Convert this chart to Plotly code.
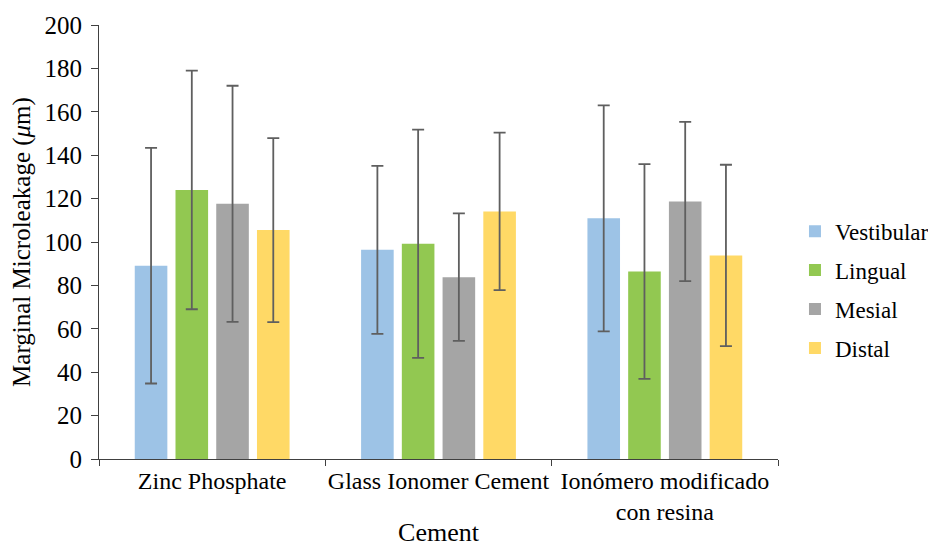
import plotly.graph_objects as go

categories = ["Zinc Phosphate", "Glass Ionomer Cement", "Ionómero modificado<br>con resina"]
series_names = ["Vestibular", "Lingual", "Mesial", "Distal"]
vestibular = [89.1, 96.4, 110.9]
lingual = [124.0, 99.2, 86.4]
mesial = [117.6, 83.8, 118.7]
distal = [105.5, 114.1, 93.8]
vestibular_sd = [54.3, 38.7, 52.1]
lingual_sd = [55.0, 52.6, 49.5]
mesial_sd = [54.4, 29.4, 36.7]
distal_sd = [42.4, 36.3, 41.8]
colors = ["#9DC3E6", "#92C851", "#A5A5A5", "#FFD966"]
y_ticks = [0, 20, 40, 60, 80, 100, 120, 140, 160, 180, 200]

values = [vestibular, lingual, mesial, distal]
sds = [vestibular_sd, lingual_sd, mesial_sd, distal_sd]

FONT = "Liberation Serif"

fig = go.Figure()
for i, (name, vals, sd, col) in enumerate(zip(series_names, values, sds, colors)):
    fig.add_trace(go.Bar(
        name=name, x=categories, y=vals,
        marker=dict(color=col, line=dict(width=0)),
        error_y=dict(type="data", array=sd, visible=True,
                     color="#5f5f5f", thickness=1.8, width=6),
        legendgroup=name,
    ))

fig.update_layout(
    barmode="group",
    bargap=0.28,
    bargroupgap=0.2,
    width=944, height=539,
    margin=dict(l=91, r=174, t=17, b=88),
    paper_bgcolor="white",
    plot_bgcolor="white",
    font=dict(family=FONT, size=23, color="black"),
    legend=dict(
        x=1.025, xanchor="left", y=0.39, yanchor="middle",
        font=dict(family=FONT, size=23, color="black"),
        tracegroupgap=6, itemwidth=30,
        bgcolor="rgba(0,0,0,0)",
    ),
    showlegend=True,
)
fig.update_xaxes(
    automargin=False, tickangle=0,
    showline=True, linecolor="#404040", linewidth=1.2,
    ticks="outside", tickson="boundaries", ticklen=6, tickcolor="#404040",
    tickfont=dict(family=FONT, size=24, color="black"),
    title=dict(text="Cement", font=dict(family=FONT, size=26, color="black"), standoff=9),
    showgrid=False,
)
fig.update_yaxes(
    automargin=False,
    range=[0, 200], tickvals=y_ticks,
    showline=True, linecolor="#404040", linewidth=1.2,
    ticks="outside", ticklen=7, tickcolor="#404040", ticklabelstandoff=4,
    tickfont=dict(family=FONT, size=25, color="black"),
    title=dict(text="Marginal Microleakage (<i>μ</i>m)", font=dict(family=FONT, size=25, color="black"), standoff=12),
    showgrid=False, zeroline=False,
)

fig.write_html("out.html")
